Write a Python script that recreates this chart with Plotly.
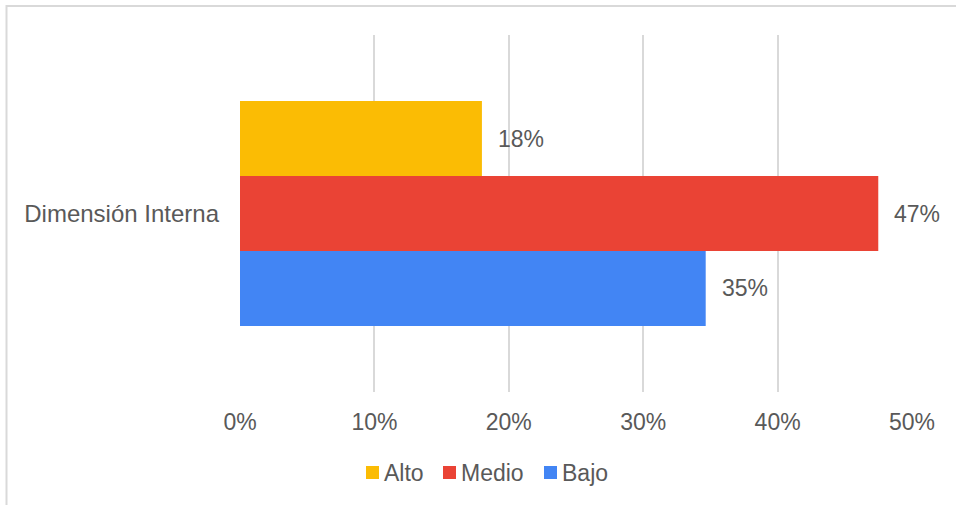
import plotly.graph_objects as go

categories = ["Dimensión Interna"]
series_names = ["Alto", "Medio", "Bajo"]
series_values = [[0.18], [0.4749], [0.3465]]
series_colors = ["#FBBC04", "#EA4335", "#4285F4"]
tick_values = [0, 0.1, 0.2, 0.3, 0.4, 0.5]
tick_labels = ["0%", "10%", "20%", "30%", "40%", "50%"]

W, H = 956, 505
ML, MR, MT, MB = 240, 44, 35, 113
FONT = "Liberation Sans, Arial, sans-serif"
FS = 23
font_color = "#595959"

pw = W - ML - MR
ph = H - MT - MB


def px_x(p):
    return (p - ML) / pw


def px_y(p):
    return (H - MB - p) / ph


fig = go.Figure()
for name, vals, col in zip(series_names, series_values, series_colors):
    fig.add_trace(go.Bar(
        y=categories, x=vals, name=name, orientation="h",
        marker=dict(color=col, line=dict(width=0)),
        hoverinfo="skip", showlegend=False,
    ))

# value labels beside each bar end
annotations = []
for i, (name, vals) in enumerate(zip(series_names, series_values)):
    for cat, v in zip(categories, vals):
        annotations.append(dict(
            x=v, y=cat, xref="x", yref="y", text=f"{round(v * 100)}%",
            showarrow=False, xanchor="left", xshift=14,
            yshift=(1 - i) * 74.5,
            font=dict(family=FONT, size=FS, color=font_color),
        ))

# legend row: colour square followed by its series name
legend_starts = [366, 443, 544]
shapes = []
for name, col, x0 in zip(series_names, series_colors, legend_starts):
    shapes.append(dict(
        type="rect", xref="paper", yref="paper",
        x0=px_x(x0), x1=px_x(x0 + 13), y0=px_y(479), y1=px_y(466),
        fillcolor=col, line=dict(width=0),
    ))
    annotations.append(dict(
        x=px_x(x0 + 16), y=px_y(472.5), xref="paper", yref="paper",
        text=name, showarrow=False, xanchor="left", yanchor="middle",
        font=dict(family=FONT, size=FS, color=font_color),
    ))

# chart border
shapes.append(dict(
    type="rect", xref="paper", yref="paper",
    x0=px_x(6.5), x1=px_x(W + 10), y0=px_y(H + 10), y1=px_y(6),
    line=dict(color="#D9D9D9", width=2), fillcolor="rgba(0,0,0,0)",
    layer="below",
))

fig.update_layout(
    width=W, height=H,
    margin=dict(l=ML, r=MR, t=MT, b=MB),
    paper_bgcolor="white", plot_bgcolor="white",
    barmode="group", bargap=0.37, bargroupgap=0,
    showlegend=False,
    font=dict(family=FONT, size=FS, color=font_color),
    xaxis=dict(
        range=[0, 0.5], tickvals=tick_values, ticktext=tick_labels,
        showgrid=True, gridcolor="#D9D9D9", gridwidth=1.5,
        zeroline=False, showline=False, ticks="", ticklabelstandoff=14,
        tickfont=dict(family=FONT, size=FS, color=font_color),
    ),
    yaxis=dict(
        autorange="reversed", showgrid=False, zeroline=False,
        showline=False, ticks="", ticklabelstandoff=20,
        tickfont=dict(family=FONT, size=24, color=font_color),
    ),
    annotations=annotations,
    shapes=shapes,
)

fig.write_html("out.html")
